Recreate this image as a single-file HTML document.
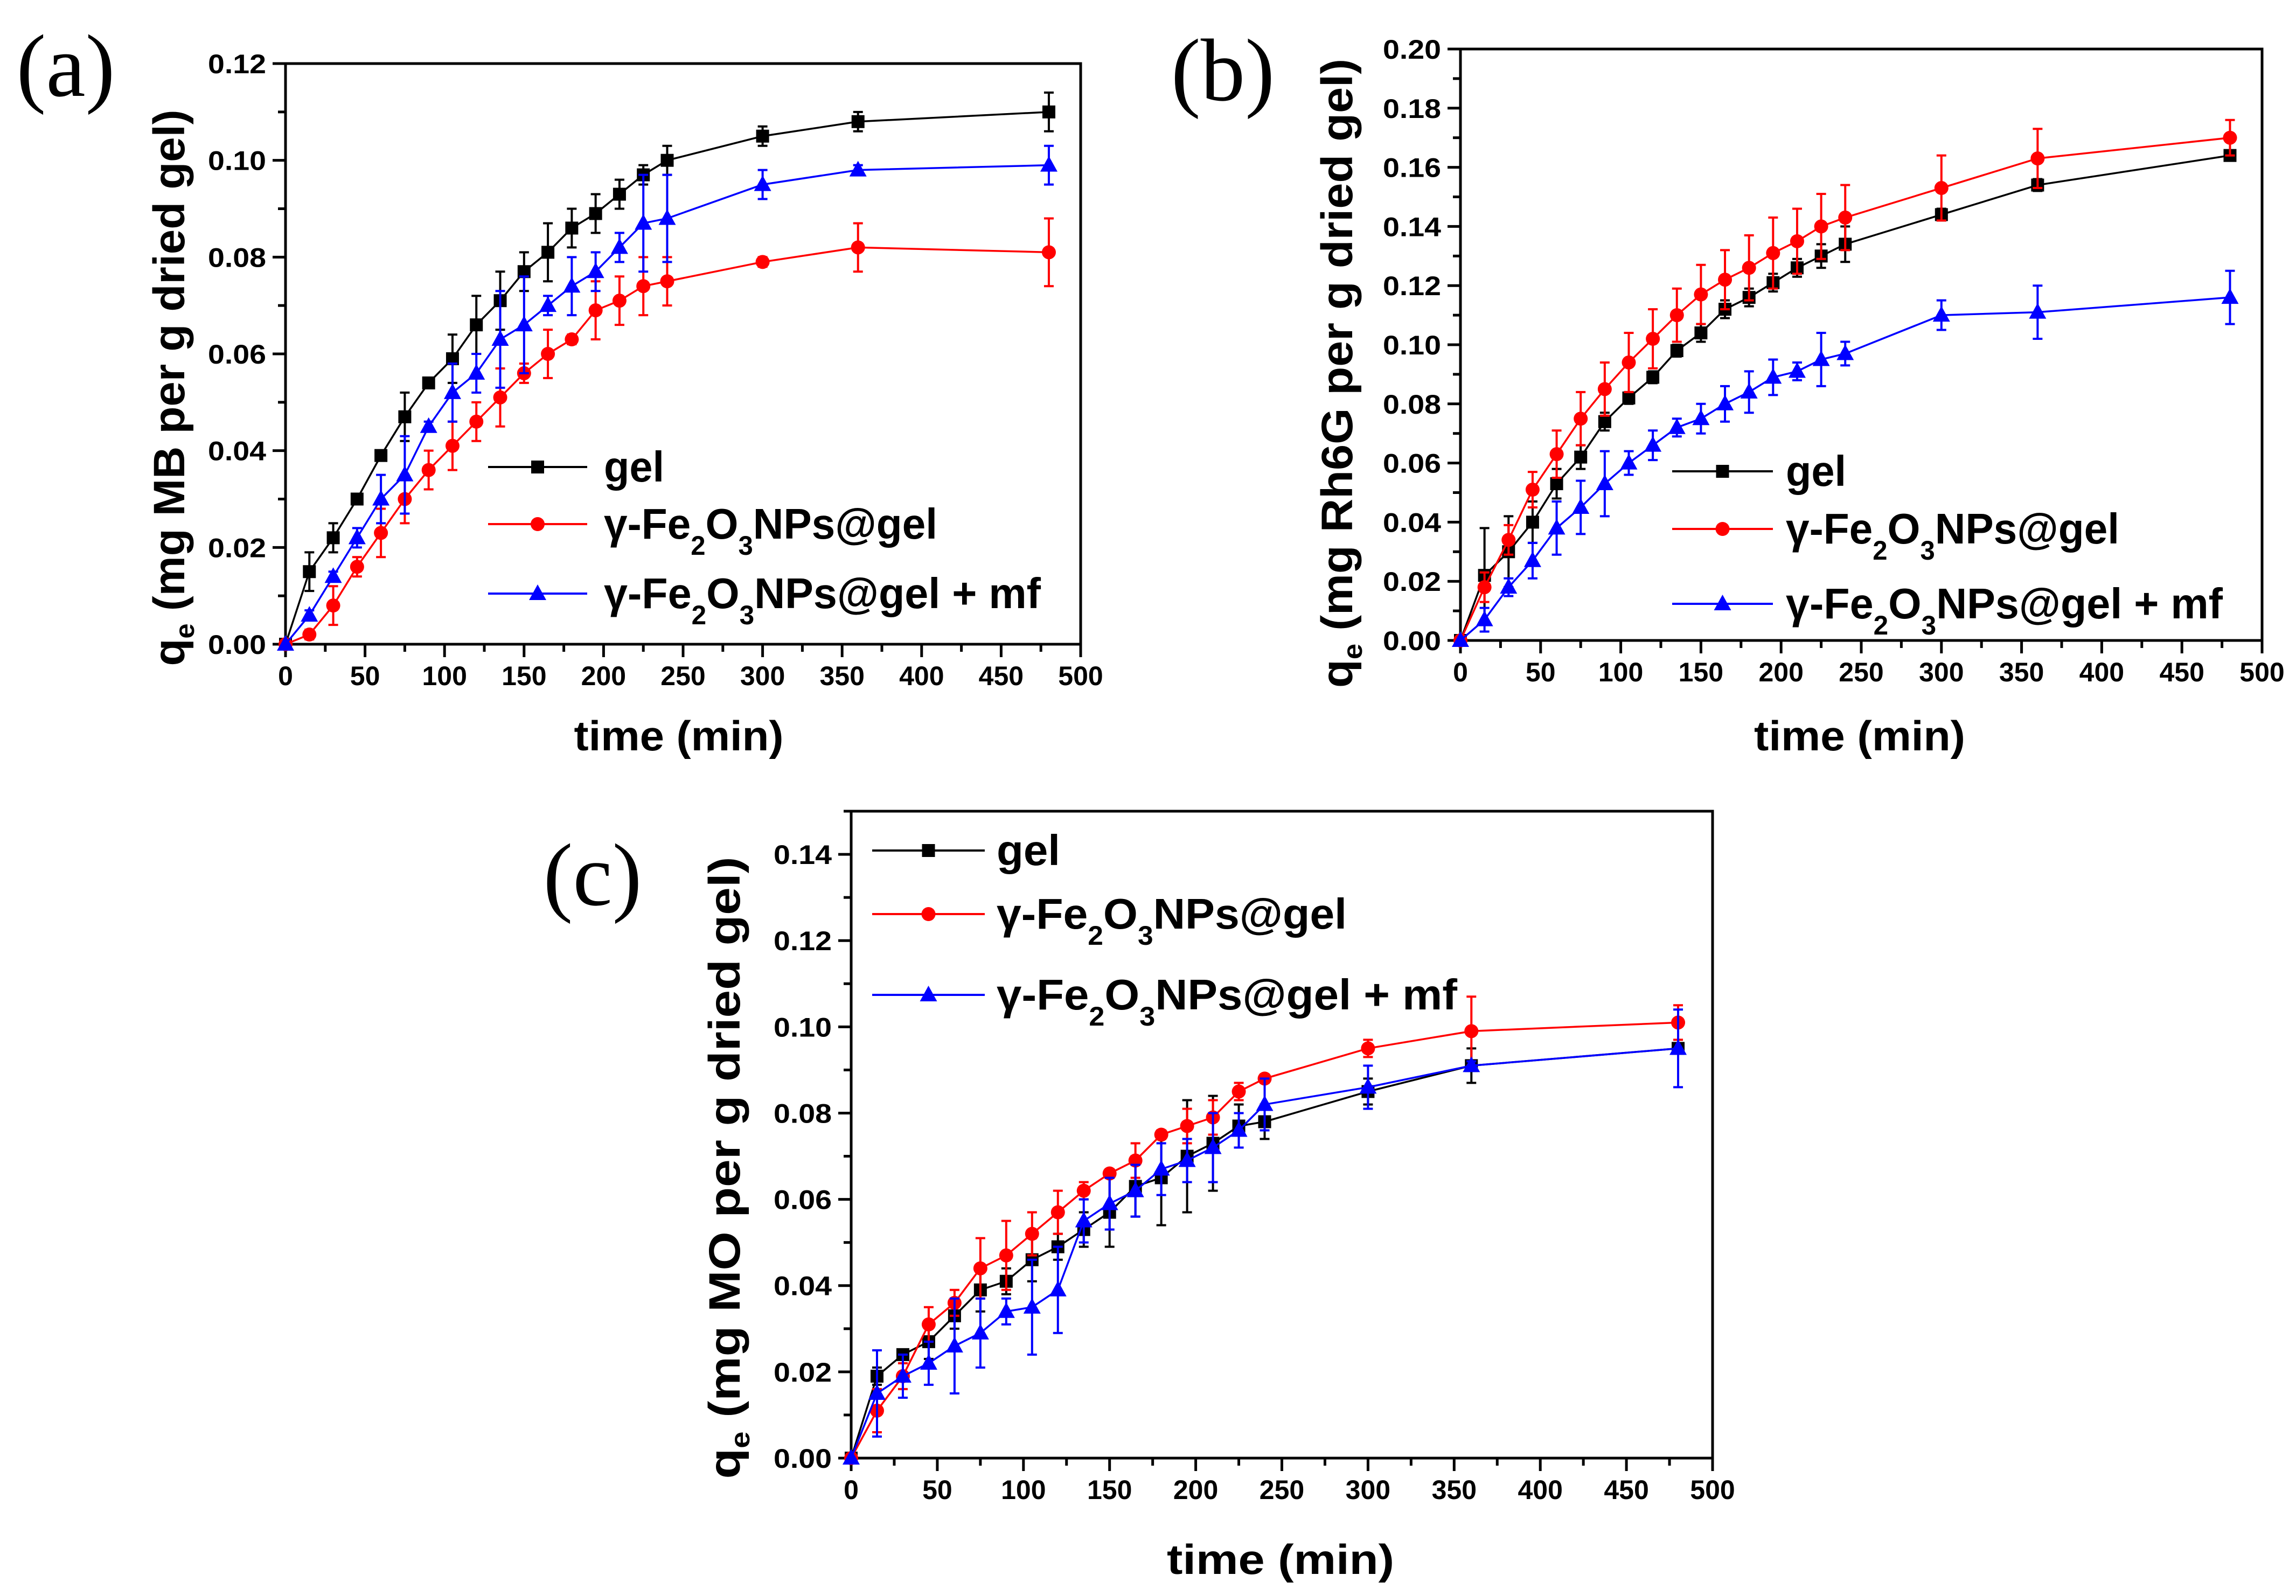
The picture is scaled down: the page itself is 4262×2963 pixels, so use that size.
<!DOCTYPE html>
<html><head><meta charset="utf-8"><style>
html,body{margin:0;padding:0;background:#fff;}
svg{display:block;font-family:"Liberation Sans",sans-serif;}
</style></head><body>
<svg id="fig" xmlns="http://www.w3.org/2000/svg" width="4262" height="2963" viewBox="0 0 4262 2963">
<rect x="0" y="0" width="4262" height="2963" fill="#fff"/>
</svg>
<script>
// ---- shared x categories (time, min) ----
const times = [0,15,30,45,60,75,90,105,120,135,150,165,180,195,210,225,240,300,360,480];
const xTicks = [0,50,100,150,200,250,300,350,400,450,500];

// ---- Panel (a) MB ----
const aGel  = [0,.015,.022,.030,.039,.047,.054,.059,.066,.071,.077,.081,.086,.089,.093,.097,.100,.105,.108,.110];
const aGelErr = [0,.004,.003,.001,.001,.005,.001,.005,.006,.006,.004,.006,.004,.004,.003,.002,.003,.002,.002,.004];
const aFe   = [0,.002,.008,.016,.023,.030,.036,.041,.046,.051,.056,.060,.063,.069,.071,.074,.075,.079,.082,.081];
const aFeErr = [0,.001,.004,.002,.005,.005,.004,.005,.004,.006,.002,.005,.001,.006,.005,.006,.005,.001,.005,.007];
const aMf   = [0,.006,.014,.022,.030,.035,.045,.052,.056,.063,.066,.070,.074,.077,.082,.087,.088,.095,.098,.099];
const aMfErr = [0,.001,.001,.002,.005,.008,.001,.006,.004,.010,.010,.002,.006,.004,.003,.010,.009,.003,.001,.004];
const aYTicks = [0,0.02,0.04,0.06,0.08,0.10,0.12];

// ---- Panel (b) Rh6G ----
const bGel  = [0,.022,.030,.040,.053,.062,.074,.082,.089,.098,.104,.112,.116,.121,.126,.130,.134,.144,.154,.164];
const bGelErr = [0,.016,.012,.007,.005,.004,.003,.002,.002,.002,.003,.003,.003,.003,.003,.004,.006,.002,.002,.001];
const bFe   = [0,.018,.034,.051,.063,.075,.085,.094,.102,.110,.117,.122,.126,.131,.135,.140,.143,.153,.163,.170];
const bFeErr = [0,.005,.005,.006,.008,.009,.009,.010,.010,.009,.010,.010,.011,.012,.011,.011,.011,.011,.010,.006];
const bMf   = [0,.007,.018,.027,.038,.045,.053,.060,.066,.072,.075,.080,.084,.089,.091,.095,.097,.110,.111,.116];
const bMfErr = [0,.004,.003,.006,.009,.009,.011,.004,.005,.003,.005,.006,.007,.006,.003,.009,.004,.005,.009,.009];
const bYTicks = [0,0.02,0.04,0.06,0.08,0.10,0.12,0.14,0.16,0.18,0.20];

// ---- Panel (c) MO ----
const cGel  = [0,.019,.024,.027,.033,.039,.041,.046,.049,.053,.057,.063,.065,.070,.073,.077,.078,.085,.091,.095];
const cGelErr = [0,.002,.001,.004,.003,.005,.003,.005,.003,.004,.008,.007,.011,.013,.011,.005,.004,.003,.004,.001];
const cFe   = [0,.011,.019,.031,.036,.044,.047,.052,.057,.062,.066,.069,.075,.077,.079,.085,.088,.095,.099,.101];
const cFeErr = [0,.005,.003,.004,.003,.007,.008,.005,.005,.002,.001,.004,.001,.004,.004,.002,.001,.002,.008,.004];
const cMf   = [0,.015,.019,.022,.026,.029,.034,.035,.039,.055,.059,.062,.067,.069,.072,.076,.082,.086,.091,.095];
const cMfErr = [0,.010,.005,.005,.011,.008,.003,.011,.010,.005,.006,.006,.006,.005,.008,.004,.006,.005,.001,.009];
const cYTicks = [0,0.02,0.04,0.06,0.08,0.10,0.12,0.14];

const NS = "http://www.w3.org/2000/svg";
const svg = document.getElementById('fig');
function mk(tag, parent, attrs){
  const e = document.createElementNS(NS, tag);
  for (const k in attrs) e.setAttribute(k, attrs[k]);
  parent.appendChild(e);
  return e;
}

function panel(cfg){
  const g = mk('g', svg, {});
  
  
  const L=cfg.l, R=cfg.r, T=cfg.t, B=cfg.b;
  const X = v => L + (v-0)/(500-0)*(R-L);
  const Y = v => B - v/cfg.ymax*(B-T);

  const let_ = mk('text', g, {x:cfg.letX, y:cfg.letY, 'font-family':'"Liberation Serif",serif', 'font-size':165, 'text-anchor':'middle', fill:'#000'});
  let_.textContent = '(' + cfg.id + ')';
  
  

  const fr = mk('rect', g, {x:L, y:T, width:R-L, height:B-T, fill:'none', stroke:'#000', 'stroke-width':5});
  
  

  const xa = mk('g', g, {});
  
  
  xTicks.forEach(v => {
    mk('line', xa, {x1:X(v), x2:X(v), y1:B, y2:B+24, stroke:'#000', 'stroke-width':5});
    const t = mk('text', xa, {x:X(v), y:B+76, 'font-size':50, 'font-weight':'bold', 'text-anchor':'middle'});
    t.textContent = String(v);
    
    
  });
  for (let i=0;i<xTicks.length-1;i++){
    const v=(xTicks[i]+xTicks[i+1])/2;
    mk('line', xa, {x1:X(v), x2:X(v), y1:B, y2:B+14, stroke:'#000', 'stroke-width':5});
  }
  const ya = mk('g', g, {});
  
  
  cfg.yt.forEach(v => {
    mk('line', ya, {x1:L-24, x2:L, y1:Y(v), y2:Y(v), stroke:'#000', 'stroke-width':5});
    const t = mk('text', ya, {x:L-36, y:Y(v)+18, 'font-size':50, 'font-weight':'bold', 'text-anchor':'end', textLength:108, lengthAdjust:'spacingAndGlyphs'});
    t.textContent = v.toFixed(2);
    
    
  });
  const step = cfg.yt[1]-cfg.yt[0];
  for (let v=step/2; v<cfg.ymax+1e-9; v+=step){
    mk('line', ya, {x1:L-14, x2:L, y1:Y(v), y2:Y(v), stroke:'#000', 'stroke-width':5});
  }

  const xt = mk('text', g, {x:cfg.xtX, y:cfg.xtY, 'font-size':78, 'font-weight':'bold', 'text-anchor':'middle', textLength:cfg.xtLen, lengthAdjust:'spacingAndGlyphs'});
  xt.textContent = 'time (min)';
  
  

  const yt = mk('text', g, {transform:'translate('+cfg.ytX+','+cfg.ytY+') rotate(-90)', 'font-size':82, 'font-weight':'bold', 'text-anchor':'middle', textLength:cfg.ytLen, lengthAdjust:'spacingAndGlyphs'});
  yt.innerHTML = 'q<tspan font-size="50" dy="18">e</tspan><tspan dy="-18"> (mg ' + cfg.dye + ' per g dried gel)</tspan>';
  
  

  const series = [
    {name:'gel', vals:cfg.gel, err:cfg.gelErr, col:'#000', mk:'sq'},
    {name:'fe2o3-gel', vals:cfg.fe, err:cfg.feErr, col:'#ff0000', mk:'ci'},
    {name:'fe2o3-gel-mf', vals:cfg.mf, err:cfg.mfErr, col:'#0000ff', mk:'tr'}
  ];
  function marker(par, type, x, y, col){
    let m;
    if (type==='sq') m = mk('rect', par, {x:x-12, y:y-12, width:24, height:24, fill:col});
    else if (type==='ci') m = mk('circle', par, {cx:x, cy:y, r:13, fill:col});
    else m = mk('polygon', par, {points:(x)+','+(y-17)+' '+(x-16)+','+(y+12)+' '+(x+16)+','+(y+12), fill:col});
    return m;
  }
  series.forEach(s => {
    const sg = mk('g', g, {});
    
    
    const pts = times.map((t,i)=>X(t)+','+Y(s.vals[i])).join(' ');
    const pl = mk('polyline', sg, {points:pts, fill:'none', stroke:s.col, 'stroke-width':3.5});
    
    
    times.forEach((t,i)=>{
      const e = s.err[i];
      if (e>0){
        const eb = mk('path', sg, {d:'M'+X(t)+','+Y(s.vals[i]-e)+'V'+Y(s.vals[i]+e)+'M'+(X(t)-9)+','+Y(s.vals[i]+e)+'h18M'+(X(t)-9)+','+Y(s.vals[i]-e)+'h18', stroke:s.col, 'stroke-width':4, fill:'none'});
        
        
      }
      const m = marker(sg, s.mk, X(t), Y(s.vals[i]), s.col);
      
      
    });
  });

  const lg = mk('g', g, {});
  
  
  const labels = ['gel','fe','mf'];
  series.forEach((s,i)=>{
    const ly = cfg.legY[i];
    const en = mk('g', lg, {});
    
    
    mk('line', en, {x1:cfg.legX1, x2:cfg.legX2, y1:ly, y2:ly, stroke:s.col, 'stroke-width':4});
    marker(en, s.mk, (cfg.legX1+cfg.legX2)/2, ly, s.col);
    const tx = mk('text', en, {x:cfg.legTX, y:ly+27, 'font-size':80, 'font-weight':'bold', textLength:cfg.legLen[i], lengthAdjust:'spacingAndGlyphs'});
    if (labels[i]==='gel') tx.textContent = 'gel';
    else tx.innerHTML = 'γ-Fe<tspan font-size="50" dy="30">2</tspan><tspan dy="-30">O</tspan><tspan font-size="50" dy="30">3</tspan><tspan dy="-30">NPs@gel' + (labels[i]==='mf' ? ' + mf' : '') + '</tspan>';
  });
}

panel({id:'a', l:530, r:2006, t:118, b:1196, ymax:0.12, yt:aYTicks, dye:'MB',
  gel:aGel, gelErr:aGelErr, fe:aFe, feErr:aFeErr, mf:aMf, mfErr:aMfErr,
  letX:122, letY:178, xtX:1260, xtY:1393, xtLen:389, ytX:342, ytY:720, ytLen:1033,
  legX1:906, legX2:1090, legY:[867,973,1102], legTX:1121, legLen:[112,619,811]});
panel({id:'b', l:2711, r:4199, t:91, b:1189, ymax:0.20, yt:bYTicks, dye:'Rh6G',
  gel:bGel, gelErr:bGelErr, fe:bFe, feErr:bFeErr, mf:bMf, mfErr:bMfErr,
  letX:2270, letY:186, xtX:3452, xtY:1393, xtLen:392, ytX:2510, ytY:693, ytLen:1168,
  legX1:3104, legX2:3291, legY:[875,982,1121], legTX:3315, legLen:[112,619,811]});
panel({id:'c', l:1580, r:3179, t:1506, b:2707, ymax:0.15, yt:cYTicks, dye:'MO',
  gel:cGel, gelErr:cGelErr, fe:cFe, feErr:cFeErr, mf:cMf, mfErr:cMfErr,
  letX:1100, letY:1680, xtX:2377, xtY:2922, xtLen:422, ytX:1373, ytY:2168, ytLen:1155,
  legX1:1619, legX2:1828, legY:[1579,1697,1847], legTX:1850, legLen:[118,650,855]});
</script>
</body></html>
